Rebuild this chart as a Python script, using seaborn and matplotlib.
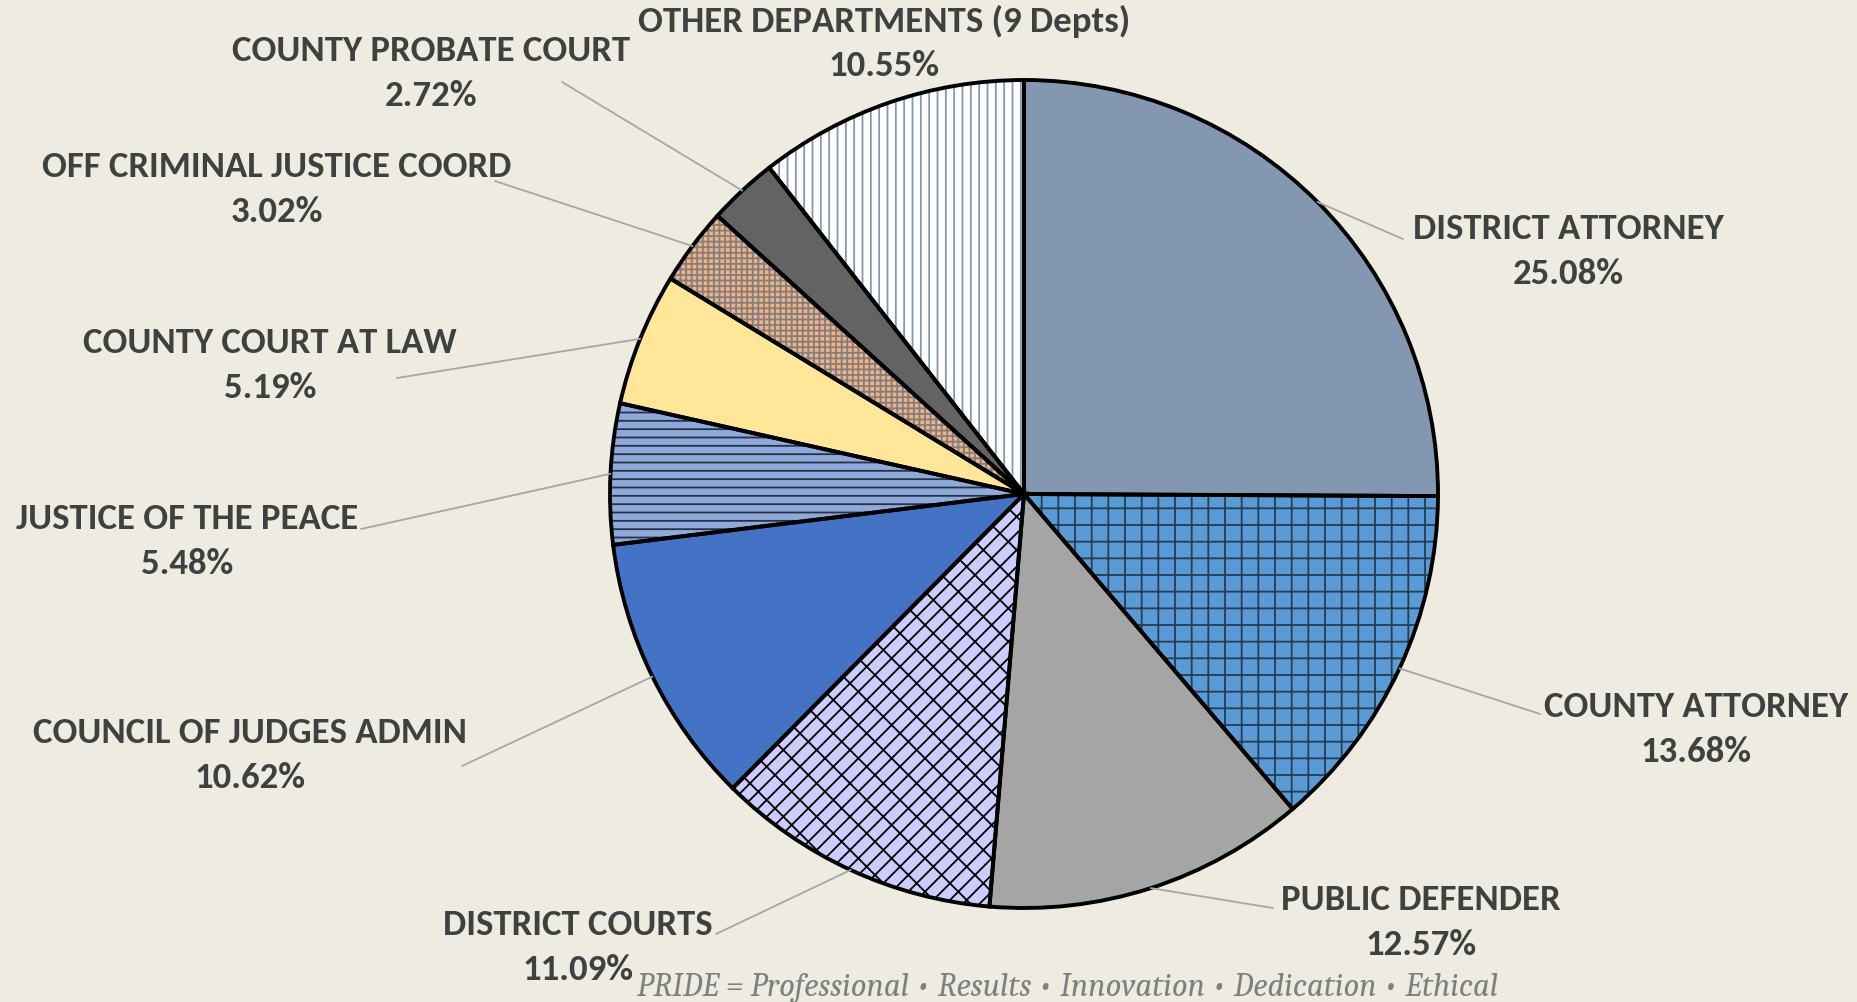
import numpy as np
import matplotlib
matplotlib.use("Agg")
import matplotlib.pyplot as plt
import seaborn as sns

# ==========================================
# DATA
# ==========================================
departments = ['DISTRICT ATTORNEY', 'COUNTY ATTORNEY', 'PUBLIC DEFENDER', 'DISTRICT COURTS',
               'COUNCIL OF JUDGES ADMIN', 'JUSTICE OF THE PEACE', 'COUNTY COURT AT LAW',
               'OFF CRIMINAL JUSTICE COORD', 'COUNTY PROBATE COURT', 'OTHER DEPARTMENTS (9 Depts)']
shares = [25.08, 13.68, 12.57, 11.09, 10.62, 5.48, 5.19, 3.02, 2.72, 10.55]

# ==========================================
# STYLE
# ==========================================
BG = '#EEECE1'
TEXT = '#404040'
fills = ['#8497B0', '#5B9BD5', '#A5A5A5', '#CCCCFF', '#4472C4',
         '#8EA9DB', '#FFE699', '#F4B183', '#636363', '#FFFFFF']
hatches = [None, '+', None, '//\\', None, '--', None, '+++', None, '||']
hatch_colors = ['none', (0, 0, 0, 0.6), 'none', '#000000', 'none',
                (0, 0, 0, 0.7), 'none', '#7F7F7F', 'none', '#8497B0']

# label centre (x, y of name line) and leader start, in reference pixels (top-left origin)
label_pos = [(1568, 229), (1696, 707), (1421, 900), (578, 925), (250, 733),
             (187, 519), (270, 343), (277, 167), (431, 51), (884, 21)]
leader_start = [(1403, 240), (1540, 715), (1273, 909), (716, 935), (462, 767),
                (361, 530), (397, 379), (495, 182), (562, 83), None]

sns.set_theme(style='white', rc={'hatch.linewidth': 1.3})
plt.rcParams['font.family'] = ['Carlito', 'Open Sans Condensed', 'DejaVu Sans']

W, H = 1857, 1003
fig = plt.figure(figsize=(W / 100, H / 100), dpi=100, facecolor=BG)
cx, cy, r = 1024, 495, 414
ax = fig.add_axes([(cx - r) / W, (H - cy - r) / H, 2 * r / W, 2 * r / H])
ax.set_facecolor('none')

# hatched fills (hatch colour follows edgecolor in mpl 3.10, so outline drawn separately)
wedges, _ = ax.pie(shares, colors=fills, startangle=90, counterclock=False,
                   wedgeprops=dict(linewidth=0))
for w, h, hc in zip(wedges, hatches, hatch_colors):
    if h:
        w.set_hatch(h)
        w.set_edgecolor(hc)
        w.set_linewidth(0)

# black outlines
ax.pie(shares, startangle=90, counterclock=False,
       wedgeprops=dict(fill=False, edgecolor='black', linewidth=2.8))
ax.set_xlim(-1.0, 1.0)
ax.set_ylim(-1.0, 1.0)
ax.set_aspect('equal')
ax.axis('off')

# labels with leader lines
for w, name, val, (lx, ly), start in zip(wedges, departments, shares, label_pos, leader_start):
    mid = np.deg2rad((w.theta1 + w.theta2) / 2)
    px, py = np.cos(mid), np.sin(mid)
    fig.text(lx / W, 1 - ly / H, name, ha='center', va='center', fontsize=26.5,
             fontweight='bold', color=TEXT)
    fig.text(lx / W, 1 - (ly + 45) / H, f'{val:.2f}%', ha='center', va='center',
             fontsize=26.5, fontweight='bold', color=TEXT)
    if start is not None:
        sx, sy = start
        ax.annotate('', xy=(px, py), xycoords='data',
                    xytext=(sx, H - sy), textcoords='figure pixels',
                    arrowprops=dict(arrowstyle='-', color='#A6A6A6', lw=1.3,
                                    shrinkA=0, shrinkB=0))

fig.text(1068 / W, 1 - 988 / H,
         'PRIDE = Professional \u2022 Results \u2022 Innovation \u2022 Dedication \u2022 Ethical',
         ha='center', va='center', fontsize=23.5, style='italic', color='#7F7F7F',
         family=['Caladea', 'DejaVu Serif'])

fig.savefig('out.png', dpi=100, facecolor=BG)
